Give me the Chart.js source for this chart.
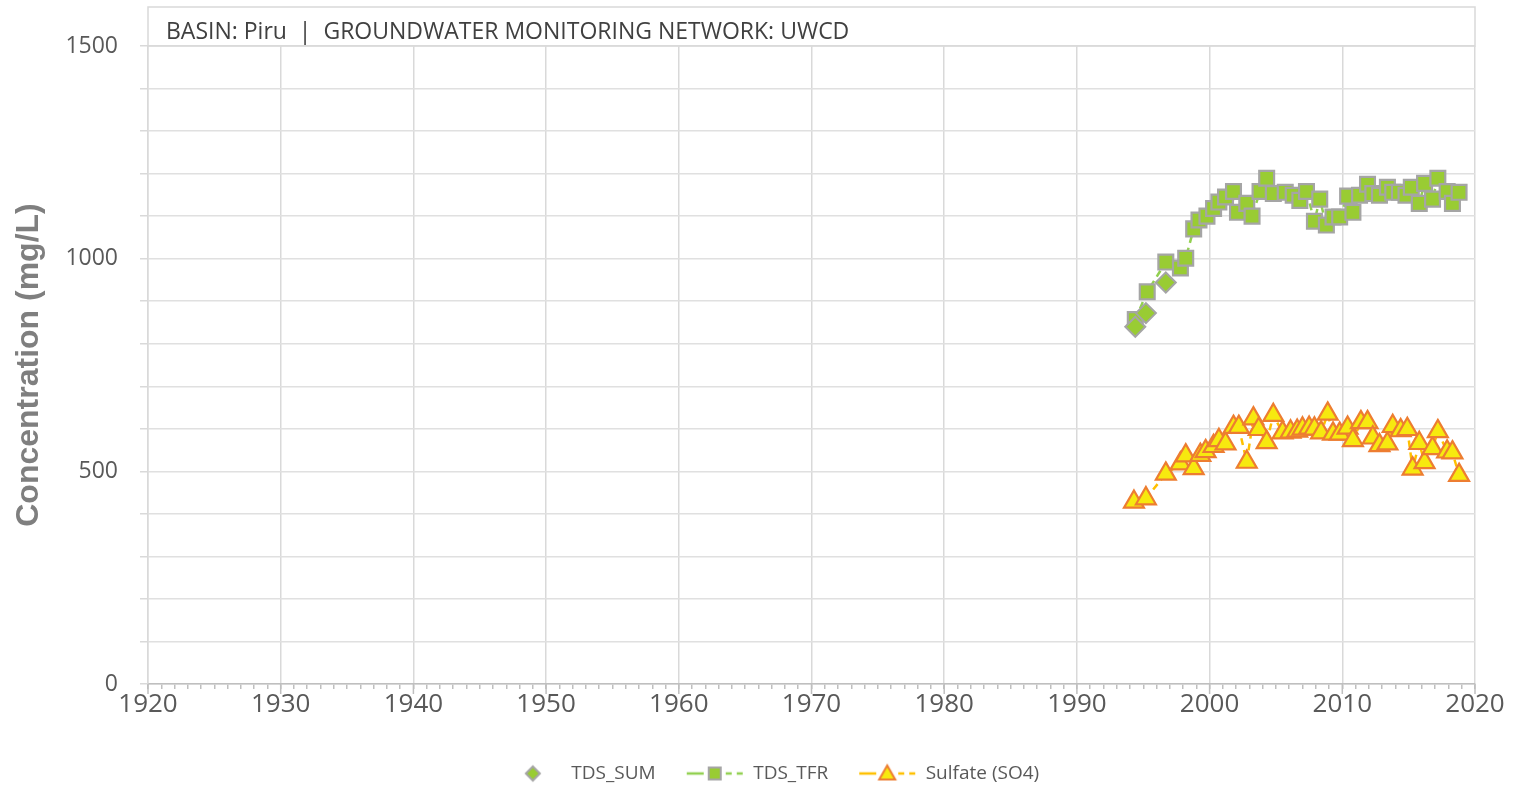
<!DOCTYPE html>
<html>
<head>
<meta charset="utf-8">
<script src="https://cdn.jsdelivr.net/npm/chart.js@4.4.1/dist/chart.umd.min.js"></script>
<style>
  html, body { margin: 0; padding: 0; background: #ffffff; }
  #wrap { width: 1527px; height: 789px; }
</style>
</head>
<body>
<div id="wrap"><canvas id="chemChart" width="1527" height="789"></canvas></div>
<script>
// data (decimal years, mg/L)
const sumYears = [1994.4, 1995.2, 1996.7];
const sumValues = [840, 872, 944];

const tfrYears = [1994.4, 1995.3, 1996.7, 1997.8, 1998.2, 1998.8, 1999.2, 1999.8, 2000.3, 2000.7,
  2001.2, 2001.8, 2002.1, 2002.8, 2003.2, 2003.8, 2004.3, 2004.8, 2005.7, 2006.3,
  2006.8, 2007.3, 2007.9, 2008.3, 2008.8, 2009.3, 2009.8, 2010.4, 2010.8, 2011.3,
  2011.9, 2012.3, 2012.8, 2013.4, 2013.8, 2014.3, 2014.8, 2015.2, 2015.8, 2016.2,
  2016.8, 2017.2, 2017.9, 2018.3, 2018.8];
const tfrValues = [857, 922, 992, 978, 1001, 1070, 1091, 1100, 1118, 1133,
  1145, 1158, 1109, 1130, 1100, 1158, 1189, 1153, 1156, 1149,
  1137, 1158, 1088, 1140, 1079, 1098, 1098, 1147, 1109, 1149,
  1175, 1153, 1149, 1168, 1156, 1156, 1149, 1168, 1130, 1177,
  1140, 1189, 1158, 1130, 1156];

const so4Years = [1994.3, 1995.2, 1996.7, 1997.8, 1998.2, 1998.8, 1999.3, 1999.7, 2000.3, 2000.7,
  2001.2, 2001.8, 2002.2, 2002.8, 2003.3, 2003.7, 2004.3, 2004.8, 2005.5, 2006.1,
  2006.6, 2007.0, 2007.5, 2007.9, 2008.4, 2008.9, 2009.3, 2009.8, 2010.4, 2010.8,
  2011.4, 2011.9, 2012.3, 2012.8, 2013.4, 2013.8, 2014.4, 2014.9, 2015.3, 2015.8,
  2016.2, 2016.8, 2017.2, 2017.9, 2018.3, 2018.8];
const so4Values = [428, 436, 494, 518, 537, 507, 538, 547, 559, 573,
  565, 604, 604, 522, 624, 599, 568, 632, 591, 593,
  595, 600, 602, 600, 591, 635, 588, 588, 602, 573,
  615, 615, 579, 561, 565, 606, 596, 599, 506, 566,
  521, 554, 594, 546, 544, 491];

const seriesNames = ['TDS_SUM', 'TDS_TFR', 'Sulfate (SO4)'];
const yTickLabels = [0, 500, 1000, 1500];
const headerText = 'BASIN: Piru  |  GROUNDWATER MONITORING NETWORK: UWCD';

const GREEN = '#99cc33';
const GREEN_LINE = '#92d050';
const GREY_EDGE = '#a5a5a5';
const YELLOW = '#f7e90f';
const ORANGE = '#ed7d31';
const GOLD_LINE = '#ffc000';
const TEXT = '#595959';

const toPoints = (xs, ys) => xs.map((x, i) => ({ x: x, y: ys[i] }));

// small canvases used as legend symbols (line - marker - dashes)
function legendSymbol(kind) {
    const c = document.createElement('canvas');
    c.width = 58; c.height = 22;
    const g = c.getContext('2d');
    const cx = 29, cy = 11;
    if (kind !== 'diamond') {
        g.strokeStyle = kind === 'square' ? GREEN_LINE : GOLD_LINE;
        g.lineWidth = 2.5;
        g.beginPath();
        g.moveTo(1, cy); g.lineTo(18, cy);
        g.moveTo(40, cy); g.lineTo(46, cy);
        g.moveTo(51, cy); g.lineTo(57, cy);
        g.stroke();
    }
    g.lineWidth = 2;
    g.beginPath();
    if (kind === 'diamond') {
        g.moveTo(cx, cy - 7); g.lineTo(cx + 7, cy); g.lineTo(cx, cy + 7); g.lineTo(cx - 7, cy);
        g.closePath();
        g.fillStyle = GREEN; g.strokeStyle = GREY_EDGE;
    } else if (kind === 'square') {
        g.rect(cx - 6, cy - 6, 12, 12);
        g.fillStyle = GREEN; g.strokeStyle = GREY_EDGE;
    } else {
        g.moveTo(cx, cy - 8); g.lineTo(cx + 8, cy + 6); g.lineTo(cx - 8, cy + 6);
        g.closePath();
        g.fillStyle = YELLOW; g.strokeStyle = ORANGE;
    }
    g.fill(); g.stroke();
    return c;
}
const legendSymbols = [legendSymbol('diamond'), legendSymbol('square'), legendSymbol('triangle')];

// boxed header strip above the plot + longer major ticks on the year axis
const chartDecor = {
    id: 'chartDecor',
    afterLayout(chart) {
        // nudge the legend row to the right, like the original
        chart.legend.left += 34;
        chart.legend.right += 34;
    },
    afterDraw(chart) {
        const { ctx, chartArea } = chart;
        const x = chart.scales.x;
        const boxTop = 7;
        ctx.save();
        ctx.strokeStyle = '#d9d9d9';
        ctx.lineWidth = 1.5;
        ctx.strokeRect(chartArea.left, boxTop, chartArea.right - chartArea.left, chartArea.top - boxTop);
        ctx.fillStyle = '#404040';
        ctx.font = '23px "Open Sans"';
        ctx.textBaseline = 'middle';
        ctx.fillText(headerText, chartArea.left + 18, chartArea.top - 14);
        ctx.strokeStyle = '#bfbfbf';
        ctx.lineWidth = 1.5;
        for (let yr = x.min; yr <= x.max; yr += 10) {
            const px = x.getPixelForValue(yr);
            ctx.beginPath();
            ctx.moveTo(px, chartArea.bottom);
            ctx.lineTo(px, chartArea.bottom + 10);
            ctx.stroke();
        }
        ctx.restore();
    }
};

new Chart(document.getElementById('chemChart'), {
    type: 'scatter',
    data: {
        datasets: [
            {
                label: seriesNames[0],
                data: toPoints(sumYears, sumValues),
                showLine: false,
                pointStyle: 'rectRot',
                pointRadius: 10,
                pointBackgroundColor: GREEN,
                pointBorderColor: GREY_EDGE,
                pointBorderWidth: 2
            },
            {
                label: seriesNames[1],
                data: toPoints(tfrYears, tfrValues),
                showLine: true,
                borderColor: GREEN_LINE,
                borderWidth: 2.5,
                borderDash: [7, 5],
                pointStyle: 'rect',
                pointRadius: 10.5,
                pointBackgroundColor: GREEN,
                pointBorderColor: GREY_EDGE,
                pointBorderWidth: 2.2
            },
            {
                label: seriesNames[2],
                data: toPoints(so4Years, so4Values),
                showLine: true,
                borderColor: GOLD_LINE,
                borderWidth: 2.5,
                borderDash: [7, 5],
                pointStyle: 'triangle',
                pointRadius: 11.5,
                pointBackgroundColor: YELLOW,
                pointBorderColor: ORANGE,
                pointBorderWidth: 2.2
            }
        ]
    },
    options: {
        responsive: false,
        animation: false,
        layout: { padding: { top: 46, right: 52, left: 0, bottom: -4 } },
        scales: {
            x: {
                type: 'linear',
                min: 1920,
                max: 2020,
                afterFit: (s) => { s.height = 50; },
                ticks: {
                    stepSize: 1,
                    autoSkip: false,
                    maxRotation: 0,
                    padding: 0,
                    color: TEXT,
                    font: { family: 'Open Sans', size: 26 },
                    callback: (v) => (v % 10 === 0 ? String(v) : '')
                },
                grid: {
                    color: (c) => (c.tick && c.tick.value % 10 === 0 ? '#d9d9d9' : 'rgba(0,0,0,0)'),
                    lineWidth: 1.5,
                    tickColor: '#bfbfbf',
                    tickLength: 5
                },
                border: { color: '#bfbfbf', width: 1.5 }
            },
            y: {
                min: 0,
                max: 1500,
                afterFit: (s) => { s.width = 148; },
                ticks: {
                    stepSize: 100,
                    padding: 22,
                    color: TEXT,
                    font: { family: 'Open Sans', size: 23 },
                    callback: (v) => (yTickLabels.includes(v) ? String(v) : '')
                },
                grid: { color: '#e0e0e0', lineWidth: 1.5, tickColor: '#d9d9d9', tickLength: 8 },
                border: { color: '#d9d9d9', width: 1.5 },
                title: {
                    display: true,
                    text: 'Concentration (mg/L)',
                    color: '#7f7f7f',
                    font: { family: 'Liberation Sans', size: 32, weight: 'bold' },
                    padding: { top: 10, bottom: 0 }
                }
            }
        },
        plugins: {
            legend: {
                position: 'bottom',
                labels: {
                    usePointStyle: true,
                    pointStyleWidth: 58,
                    padding: 30,
                    color: TEXT,
                    font: { family: 'Open Sans', size: 19 },
                    generateLabels: (chart) => seriesNames.map((name, i) => ({
                        text: name,
                        pointStyle: legendSymbols[i],
                        fillStyle: 'rgba(0,0,0,0)',
                        strokeStyle: 'rgba(0,0,0,0)',
                        lineWidth: 0,
                        fontColor: TEXT,
                        hidden: false,
                        datasetIndex: i
                    }))
                }
            },
            tooltip: { enabled: false }
        }
    },
    plugins: [chartDecor]
});
</script>
</body>
</html>
